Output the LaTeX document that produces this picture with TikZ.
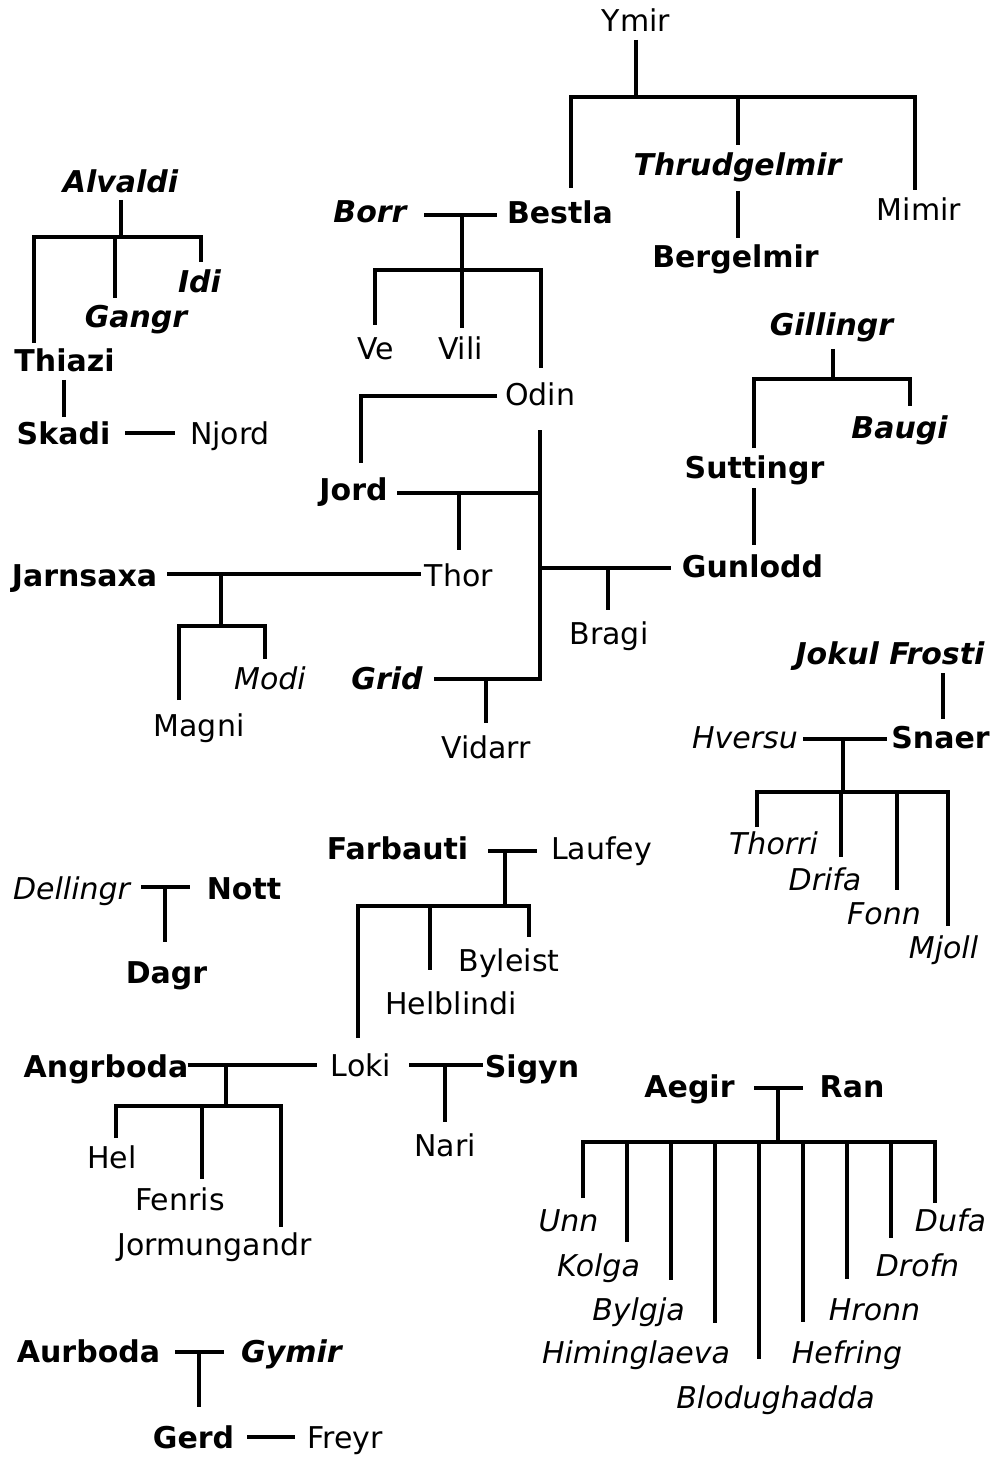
\documentclass[tikz,border=0pt]{standalone}
\usepackage{fontspec}
\setmainfont{DejaVu Sans}[BoldFont={DejaVu Sans Bold},ItalicFont={DejaVu Sans Oblique},BoldItalicFont={DejaVu Sans Bold Oblique}]
\newcommand{\gfont}{\fontsize{22.5}{26}\selectfont}
\tikzset{
  nreg/.style={font=\gfont, inner sep=0pt, anchor=base},
  nbf/.style={nreg, font=\gfont\bfseries},
  nit/.style={nreg, font=\gfont\itshape},
  nbi/.style={nreg, font=\gfont\bfseries\itshape},
  link/.style={line width=2.3pt},
}
\begin{document}
\begin{tikzpicture}[x=0.75pt,y=-0.75pt]
  \useasboundingbox (0,0) rectangle (991,1458);
  % Ymir's line
  \node[nreg] (ymir) at (636,32) {Ymir};
  \node[nbf] (bestla) at (560,223.5) {Bestla};
  \node[nbi] (thrudgelmir) at (737.5,176) {Thrudgelmir};
  \node[nbf] (bergelmir) at (735.5,268) {Bergelmir};
  \node[nreg] (mimir) at (919,221) {Mimir};
  \node[nbi] (borr) at (370,223) {Borr};
  \node[nreg] (ve) at (375.5,360) {Ve};
  \node[nreg] (vili) at (460.5,360) {Vili};
  \node[nreg] (odin) at (540,405) {Odin};
  \node[nbf] (jord) at (353.5,500) {Jord};
  \node[nreg] (thor) at (459,586) {Thor};
  \node[nbf] (jarnsaxa) at (84.5,586) {Jarnsaxa};
  \node[nit] (modi) at (270,689) {Modi};
  \node[nreg] (magni) at (199,736) {Magni};
  \node[nbi] (grid) at (387,689) {Grid};
  \node[nreg] (vidarr) at (486,758) {Vidarr};
  \node[nreg] (bragi) at (609,644) {Bragi};
  \node[nbf] (gunlodd) at (752.5,577) {Gunlodd};
  % Alvaldi
  \node[nbi] (alvaldi) at (120.5,193) {Alvaldi};
  \node[nbi] (idi) at (199.5,293) {Idi};
  \node[nbi] (gangr) at (136,328) {Gangr};
  \node[nbf] (thiazi) at (64.5,372) {Thiazi};
  \node[nbf] (skadi) at (63.5,444) {Skadi};
  \node[nreg] (njord) at (230,444) {Njord};
  % Gillingr
  \node[nbi] (gillingr) at (831.5,336) {Gillingr};
  \node[nbi] (baugi) at (899.5,438) {Baugi};
  \node[nbf] (suttingr) at (754.5,478) {Suttingr};
  % Jokul Frosti
  \node[nbi] (jokul) at (890,664) {Jokul Frosti};
  \node[nbf] (snaer) at (940.5,748) {Snaer};
  \node[nit] (hversu) at (745,748) {Hversu};
  \node[nit] (thorri) at (773.5,854) {Thorri};
  \node[nit] (drifa) at (825,890) {Drifa};
  \node[nit] (fonn) at (884,924) {Fonn};
  \node[nit] (mjoll) at (943.5,958) {Mjoll};
  % Farbauti
  \node[nbf] (farbauti) at (397.5,859) {Farbauti};
  \node[nreg] (laufey) at (601.5,859) {Laufey};
  \node[nreg] (byleist) at (509,971) {Byleist};
  \node[nreg] (helblindi) at (451,1014) {Helblindi};
  \node[nreg] (loki) at (361,1076.5) {Loki};
  \node[nbf] (angrboda) at (106,1077) {Angrboda};
  \node[nbf] (sigyn) at (532,1077) {Sigyn};
  \node[nreg] (nari) at (445,1156) {Nari};
  \node[nreg] (hel) at (112,1168) {Hel};
  \node[nreg] (fenris) at (180,1210) {Fenris};
  \node[nreg] (jormungandr) at (214.5,1255) {Jormungandr};
  % Dellingr
  \node[nit] (dellingr) at (71.5,899) {Dellingr};
  \node[nbf] (nott) at (244,899) {Nott};
  \node[nbf] (dagr) at (166.5,983) {Dagr};
  % Aegir
  \node[nbf] (aegir) at (689.5,1097) {Aegir};
  \node[nbf] (ran) at (852,1097) {Ran};
  \node[nit] (unn) at (568.5,1231) {Unn};
  \node[nit] (kolga) at (598.5,1276) {Kolga};
  \node[nit] (bylgja) at (638.5,1320) {Bylgja};
  \node[nit] (himinglaeva) at (636,1363) {Himinglaeva};
  \node[nit] (blodughadda) at (775.5,1408) {Blodughadda};
  \node[nit] (hefring) at (847,1363) {Hefring};
  \node[nit] (hronn) at (874.5,1320) {Hronn};
  \node[nit] (drofn) at (917.5,1276) {Drofn};
  \node[nit] (dufa) at (950.5,1231) {Dufa};
  % Aurboda
  \node[nbf] (aurboda) at (88.5,1362) {Aurboda};
  \node[nbi] (gymir) at (291.5,1362) {Gymir};
  \node[nbf] (gerd) at (193.5,1448) {Gerd};
  \node[nreg] (freyr) at (345,1448) {Freyr};

  \begin{scope}[link]
    \draw (ymir |- 0,40) -- (636,97);
    \draw (571,188) |- (915,97) -- (915,190);
    \draw (738,97) -- (738,145);
    \draw (738,191) -- (738,238);
    \draw (121,200) -- (121,237);
    \draw (34,343) |- (201,237) -- (201,262);
    \draw (115,237) -- (115,298);
    \draw (64,380) -- (64,417);
    \draw (125,433) -- (175,433);
    \draw (424,215) -- (497,215);
    \draw (462,215) -- (462,328);
    \draw (375,325) |- (541,270) -- (541,368);
    \draw (497,396) -| (361,463);
    \draw (540,430) |- (434,679);
    \draw (397,493) -- (540,493);
    \draw (459,493) -- (459,550);
    \draw (540,568) -- (671,568);
    \draw (608,568) -- (608,610);
    \draw (486,679) -- (486,723);
    \draw (167,574) -- (421,574);
    \draw (221,574) -- (221,626);
    \draw (179,700) |- (265,626) -- (265,659);
    \draw (833,349) -- (833,379);
    \draw (754,448) |- (910,379) -- (910,406);
    \draw (754,488) -- (754,545);
    \draw (943,673) -- (943,719);
    \draw (803,739) -- (887,739);
    \draw (843,739) -- (843,792);
    \draw (757,827) |- (948,792) -- (948,926);
    \draw (841,792) -- (841,857);
    \draw (897,792) -- (897,890);
    \draw (488,851) -- (537,851);
    \draw (505,851) -- (505,906);
    \draw (358,1038) |- (529,906) -- (529,937);
    \draw (430,906) -- (430,970);
    \draw (141,887) -- (190,887);
    \draw (165,887) -- (165,942);
    \draw (187.5,1065) -- (317,1065);
    \draw (226,1065) -- (226,1106);
    \draw (116,1138) |- (281,1106) -- (281,1227);
    \draw (202,1106) -- (202,1179);
    \draw (409,1065) -- (483,1065);
    \draw (445,1065) -- (445,1122);
    \draw (754,1088) -- (803,1088);
    \draw (778,1088) -- (778,1142);
    \draw (583,1198) |- (935,1142) -- (935,1203);
    \foreach \x/\y in {627/1242, 671/1280, 715/1323, 759/1359, 803/1322, 847/1279, 891/1238}
      \draw (\x,1142) -- (\x,\y);
    \draw (175,1352) -- (224,1352);
    \draw (199,1352) -- (199,1407);
    \draw (247,1437) -- (295,1437);
  \end{scope}
\end{tikzpicture}
\end{document}
